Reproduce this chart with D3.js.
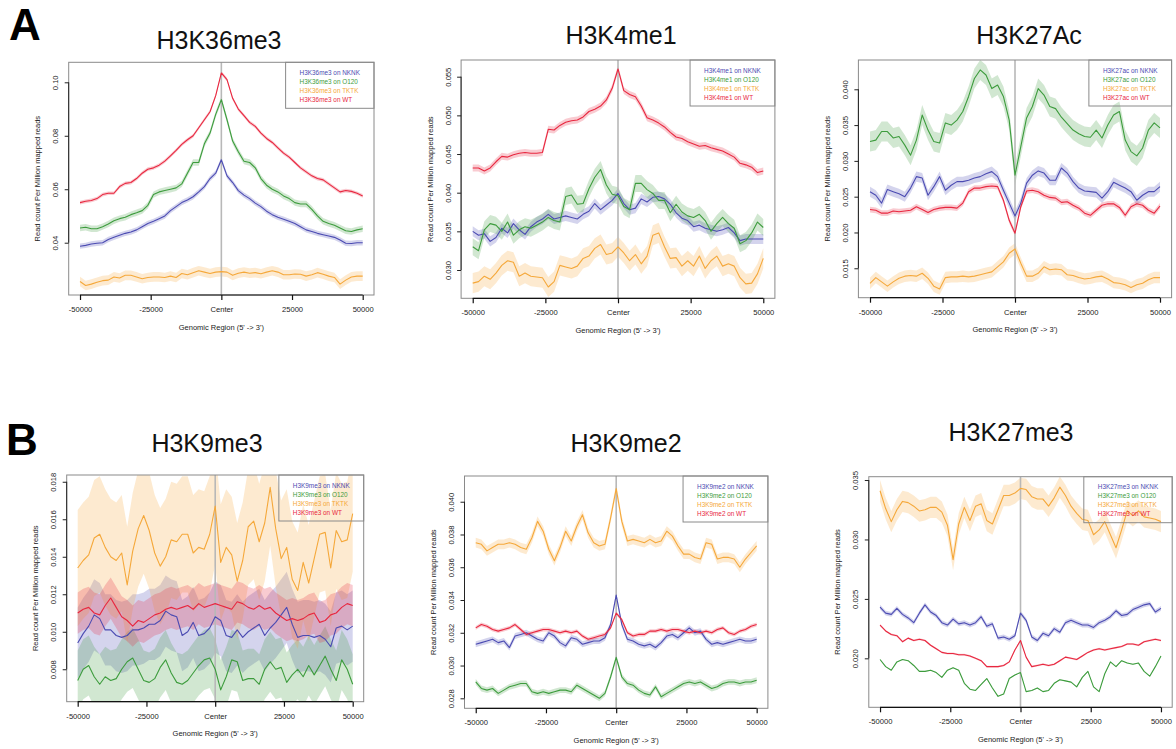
<!DOCTYPE html>
<html>
<head>
<meta charset="utf-8">
<script src="https://cdn.jsdelivr.net/npm/d3@7"></script>
<style>
  html, body { margin: 0; padding: 0; background: #fff; }
  svg { display: block; font-family: "Liberation Sans", Arial, Helvetica, sans-serif; }
</style>
</head>
<body>
<svg id="fig" width="1176" height="749"></svg>
<script>
// Genomic positions of the profile bins (bp relative to the center)
const positions = d3.range(-50000, 50001, 2000);
const xTickValues = [-50000, -25000, 0, 25000, 50000];
const xTickLabels = ["-50000", "-25000", "Center", "25000", "50000"];
const samples = ["NKNK", "O120", "TKTK", "WT"];

// ---- H3K36me3 ----
const k36_nknk = [0.0387,0.0390,0.0395,0.0398,0.0400, 0.0412,0.0420,0.0428,0.0435,0.0440, 0.0448,0.0460,0.0472,0.0480,0.0490, 0.0500,0.0520,0.0535,0.0550,0.0560, 0.0572,0.0590,0.0610,0.0640,0.0660, 0.0710, 0.0650,0.0625,0.0595,0.0578,0.0565, 0.0548,0.0535,0.0518,0.0505,0.0495, 0.0488,0.0480,0.0472,0.0460,0.0448, 0.0442,0.0435,0.0430,0.0425,0.0420, 0.0410,0.0398,0.0397,0.0400,0.0400];
const k36_o120 = [0.0455,0.0458,0.0452,0.0452,0.0460, 0.0470,0.0482,0.0490,0.0495,0.0505, 0.0512,0.0520,0.0540,0.0580,0.0590, 0.0595,0.0600,0.0605,0.0620,0.0660, 0.0700,0.0700,0.0770,0.0810,0.0880, 0.0935, 0.0860,0.0780,0.0740,0.0705,0.0700, 0.0680,0.0640,0.0615,0.0600,0.0590, 0.0575,0.0565,0.0550,0.0545,0.0545, 0.0525,0.0500,0.0480,0.0472,0.0465, 0.0455,0.0445,0.0442,0.0448,0.0452];
const k36_tktk = [0.0255,0.0240,0.0245,0.0252,0.0258, 0.0260,0.0272,0.0268,0.0278,0.0278, 0.0272,0.0265,0.0270,0.0272,0.0272, 0.0270,0.0275,0.0270,0.0285,0.0280, 0.0288,0.0295,0.0290,0.0285,0.0290, 0.0292, 0.0290,0.0278,0.0286,0.0290,0.0286, 0.0288,0.0284,0.0290,0.0295,0.0290, 0.0280,0.0280,0.0283,0.0282,0.0275, 0.0280,0.0288,0.0282,0.0275,0.0270, 0.0245,0.0260,0.0272,0.0275,0.0275];
const k36_wt = [0.0550,0.0555,0.0558,0.0565,0.0580, 0.0585,0.0585,0.0610,0.0622,0.0625, 0.0640,0.0660,0.0675,0.0680,0.0690, 0.0705,0.0725,0.0745,0.0768,0.0785, 0.0800,0.0830,0.0860,0.0890,0.0950, 0.1035, 0.1010,0.0940,0.0900,0.0875,0.0850, 0.0835,0.0810,0.0790,0.0775,0.0755, 0.0735,0.0720,0.0700,0.0680,0.0665, 0.0650,0.0640,0.0635,0.0620,0.0605, 0.0590,0.0595,0.0592,0.0585,0.0575];
const k36_se = [0.0010, 0.0012, 0.0018, 0.0007];
const k36_yTicks = [0.04, 0.06, 0.08, 0.10];

// ---- H3K4me1 ----
const k4_nknk = [0.0350,0.0345,0.0347,0.0337,0.0342, 0.0354,0.0348,0.0360,0.0352,0.0346, 0.0356,0.0362,0.0366,0.0372,0.0366, 0.0368,0.0370,0.0368,0.0366,0.0372, 0.0376,0.0386,0.0378,0.0384,0.0390, 0.0399, 0.0386,0.0378,0.0380,0.0392,0.0388, 0.0394,0.0395,0.0392,0.0385,0.0374, 0.0367,0.0364,0.0356,0.0358,0.0354, 0.0352,0.0350,0.0352,0.0355,0.0348, 0.0338,0.0340,0.0340,0.0340,0.0340];
const k4_o120 = [0.0330,0.0325,0.0352,0.0360,0.0358, 0.0350,0.0362,0.0345,0.0352,0.0356, 0.0354,0.0358,0.0362,0.0368,0.0364, 0.0362,0.0395,0.0397,0.0385,0.0386, 0.0405,0.0420,0.0430,0.0410,0.0398, 0.0396, 0.0382,0.0378,0.0412,0.0412,0.0404, 0.0399,0.0390,0.0390,0.0374,0.0385, 0.0375,0.0370,0.0368,0.0372,0.0364, 0.0350,0.0360,0.0368,0.0360,0.0354, 0.0334,0.0338,0.0348,0.0362,0.0355];
const k4_tktk = [0.0283,0.0285,0.0292,0.0288,0.0296, 0.0306,0.0312,0.0310,0.0292,0.0296, 0.0292,0.0291,0.0290,0.0278,0.0285, 0.0306,0.0304,0.0302,0.0305,0.0315, 0.0318,0.0328,0.0333,0.0320,0.0322, 0.0330, 0.0322,0.0312,0.0320,0.0308,0.0318, 0.0345,0.0348,0.0330,0.0315,0.0316, 0.0305,0.0312,0.0305,0.0318,0.0302, 0.0312,0.0318,0.0305,0.0308,0.0305, 0.0290,0.0282,0.0283,0.0295,0.0315];
const k4_wt = [0.0432,0.0432,0.0428,0.0432,0.0440, 0.0447,0.0446,0.0449,0.0451,0.0452, 0.0451,0.0451,0.0452,0.0482,0.0481, 0.0487,0.0491,0.0493,0.0494,0.0498, 0.0505,0.0508,0.0512,0.0520,0.0535, 0.0560, 0.0532,0.0527,0.0524,0.0512,0.0497, 0.0494,0.0490,0.0485,0.0478,0.0472, 0.0470,0.0466,0.0463,0.0460,0.0461, 0.0458,0.0456,0.0454,0.0450,0.0446, 0.0438,0.0436,0.0433,0.0426,0.0428];
const k4_se = [0.00065, 0.0011, 0.0013, 0.00045];
const k4_yTicks = [0.030, 0.035, 0.040, 0.045, 0.050, 0.055];

// ---- H3K27ac ----
const k27ac_nknk = [0.0257,0.0252,0.0241,0.0260,0.0257, 0.0254,0.0250,0.0262,0.0278,0.0276, 0.0252,0.0264,0.0278,0.0259,0.0266, 0.0271,0.0271,0.0273,0.0276,0.0278, 0.0282,0.0285,0.0278,0.0259,0.0241, 0.0223, 0.0241,0.0269,0.0280,0.0286,0.0283, 0.0273,0.0273,0.0290,0.0283,0.0271, 0.0262,0.0258,0.0257,0.0256,0.0248, 0.0257,0.0270,0.0266,0.0262,0.0257, 0.0245,0.0252,0.0257,0.0257,0.0264];
const k27ac_o120 = [0.0327,0.0329,0.0341,0.0341,0.0332, 0.0334,0.0322,0.0308,0.0329,0.0364, 0.0343,0.0327,0.0325,0.0353,0.0350, 0.0357,0.0369,0.0390,0.0415,0.0427, 0.0420,0.0401,0.0406,0.0390,0.0357, 0.0280, 0.0320,0.0360,0.0376,0.0401,0.0392, 0.0376,0.0373,0.0361,0.0352,0.0343, 0.0338,0.0334,0.0333,0.0343,0.0332, 0.0350,0.0364,0.0369,0.0329,0.0313, 0.0307,0.0318,0.0343,0.0353,0.0346];
const k27ac_tktk = [0.0129,0.0137,0.0131,0.0125,0.0131, 0.0136,0.0139,0.0140,0.0139,0.0143, 0.0136,0.0125,0.0121,0.0137,0.0138, 0.0138,0.0139,0.0138,0.0139,0.0141, 0.0143,0.0145,0.0152,0.0159,0.0171, 0.0177, 0.0157,0.0139,0.0139,0.0143,0.0152, 0.0148,0.0149,0.0148,0.0141,0.0140, 0.0137,0.0135,0.0136,0.0138,0.0139, 0.0135,0.0130,0.0129,0.0127,0.0123, 0.0127,0.0129,0.0134,0.0137,0.0137];
const k27ac_wt = [0.0232,0.0231,0.0227,0.0227,0.0230, 0.0229,0.0230,0.0231,0.0236,0.0232, 0.0228,0.0232,0.0234,0.0235,0.0235, 0.0234,0.0241,0.0257,0.0262,0.0262, 0.0264,0.0265,0.0264,0.0245,0.0217, 0.0199, 0.0236,0.0258,0.0259,0.0257,0.0252, 0.0249,0.0248,0.0242,0.0243,0.0238, 0.0234,0.0227,0.0224,0.0231,0.0238, 0.0240,0.0240,0.0235,0.0224,0.0236, 0.0240,0.0238,0.0231,0.0227,0.0237];
const k27ac_se = [0.0007, 0.0014, 0.0008, 0.0004];
const k27ac_yTicks = [0.015, 0.020, 0.025, 0.030, 0.035, 0.040];

// ---- H3K9me3 ----
const k9me3_nknk = [0.0094,0.0099,0.0103,0.0109,0.0107, 0.0101,0.0101,0.0098,0.0097,0.0098, 0.0101,0.0101,0.0102,0.0104,0.0104, 0.0106,0.0111,0.0109,0.0108,0.0098, 0.0100,0.0105,0.0098,0.0099,0.0102, 0.0108, 0.0106,0.0098,0.0097,0.0101,0.0097, 0.0100,0.0102,0.0104,0.0098,0.0102, 0.0105,0.0109,0.0113,0.0104,0.0097, 0.0098,0.0098,0.0097,0.0098,0.0096, 0.0092,0.0102,0.0103,0.0101,0.0103];
const k9me3_o120 = [0.0074,0.0080,0.0082,0.0076,0.0072, 0.0076,0.0074,0.0075,0.0080,0.0084, 0.0086,0.0080,0.0074,0.0073,0.0075, 0.0081,0.0085,0.0078,0.0073,0.0072, 0.0074,0.0078,0.0082,0.0085,0.0086, 0.0080, 0.0069,0.0076,0.0085,0.0084,0.0074, 0.0075,0.0075,0.0072,0.0080,0.0084, 0.0080,0.0081,0.0073,0.0077,0.0080, 0.0076,0.0082,0.0077,0.0082,0.0087, 0.0080,0.0074,0.0085,0.0080,0.0072];
const k9me3_tktk = [0.0134,0.0138,0.0141,0.0150,0.0152, 0.0145,0.0140,0.0138,0.0142,0.0125, 0.0143,0.0155,0.0162,0.0154,0.0142, 0.0135,0.0140,0.0149,0.0148,0.0152, 0.0152,0.0142,0.0145,0.0144,0.0152, 0.0167, 0.0137,0.0145,0.0141,0.0127,0.0138, 0.0156,0.0159,0.0148,0.0158,0.0177, 0.0155,0.0139,0.0145,0.0128,0.0122, 0.0137,0.0126,0.0139,0.0152,0.0153, 0.0134,0.0154,0.0148,0.0149,0.0163];
const k9me3_wt = [0.0110,0.0112,0.0113,0.0110,0.0109, 0.0114,0.0118,0.0113,0.0108,0.0106, 0.0103,0.0106,0.0105,0.0107,0.0109, 0.0110,0.0112,0.0113,0.0112,0.0113, 0.0114,0.0112,0.0115,0.0113,0.0114, 0.0115, 0.0114,0.0113,0.0112,0.0116,0.0115, 0.0113,0.0112,0.0114,0.0112,0.0113, 0.0110,0.0108,0.0106,0.0107,0.0106, 0.0107,0.0109,0.0110,0.0105,0.0106, 0.0109,0.0110,0.0113,0.0115,0.0114];
const k9me3_se = [0.0019, 0.0016, 0.0031, 0.0011];
const k9me3_yTicks = [0.008, 0.010, 0.012, 0.014, 0.016, 0.018];

// ---- H3K9me2 ----
const k9me2_nknk = [0.0313,0.0314,0.0315,0.0316,0.0314, 0.0315,0.0311,0.0318,0.0319,0.0320, 0.0318,0.0316,0.0315,0.0320,0.0318, 0.0314,0.0312,0.0317,0.0316,0.0313, 0.0314,0.0315,0.0315,0.0317,0.0325, 0.0343, 0.0325,0.0316,0.0315,0.0313,0.0312, 0.0313,0.0311,0.0314,0.0318,0.0319, 0.0317,0.0320,0.0323,0.0320,0.0321, 0.0316,0.0313,0.0314,0.0313,0.0314, 0.0315,0.0316,0.0315,0.0315,0.0316];
const k9me2_o120 = [0.0290,0.0286,0.0285,0.0286,0.0283, 0.0285,0.0287,0.0288,0.0289,0.0289, 0.0284,0.0283,0.0284,0.0283,0.0284, 0.0285,0.0285,0.0284,0.0288,0.0286, 0.0284,0.0282,0.0280,0.0283,0.0293, 0.0305, 0.0293,0.0289,0.0288,0.0285,0.0283, 0.0282,0.0287,0.0281,0.0283,0.0285, 0.0287,0.0289,0.0290,0.0289,0.0290, 0.0288,0.0286,0.0287,0.0289,0.0290, 0.0290,0.0289,0.0290,0.0290,0.0291];
const k9me2_tktk = [0.0375,0.0374,0.0370,0.0372,0.0374, 0.0374,0.0375,0.0374,0.0372,0.0371, 0.0378,0.0388,0.0382,0.0371,0.0364, 0.0372,0.0382,0.0376,0.0385,0.0392, 0.0381,0.0375,0.0373,0.0374,0.0390, 0.0408, 0.0388,0.0376,0.0377,0.0376,0.0375, 0.0377,0.0375,0.0376,0.0382,0.0379, 0.0373,0.0368,0.0368,0.0366,0.0365, 0.0375,0.0374,0.0365,0.0366,0.0366, 0.0365,0.0360,0.0365,0.0369,0.0373];
const k9me2_wt = [0.0323,0.0325,0.0324,0.0322,0.0321, 0.0322,0.0323,0.0325,0.0322,0.0319, 0.0320,0.0321,0.0322,0.0322,0.0321, 0.0320,0.0321,0.0320,0.0321,0.0318, 0.0316,0.0317,0.0318,0.0319,0.0323, 0.0332, 0.0328,0.0320,0.0318,0.0319,0.0319, 0.0321,0.0321,0.0322,0.0321,0.0322, 0.0322,0.0321,0.0320,0.0321,0.0320, 0.0321,0.0320,0.0322,0.0323,0.0320, 0.0319,0.0321,0.0322,0.0324,0.0325];
const k9me2_se = [0.00018, 0.00018, 0.0003, 0.00012];
const k9me2_yTicks = [0.028, 0.030, 0.032, 0.034, 0.036, 0.038, 0.040];

// ---- H3K27me3 ----
const k27me3_nknk = [0.0243,0.0238,0.0237,0.0242,0.0237, 0.0234,0.0230,0.0238,0.0245,0.0239, 0.0236,0.0230,0.0228,0.0233,0.0229, 0.0230,0.0228,0.0230,0.0235,0.0227, 0.0229,0.0217,0.0218,0.0216,0.0219, 0.0238, 0.0232,0.0218,0.0215,0.0221,0.0219, 0.0225,0.0222,0.0230,0.0232,0.0230, 0.0228,0.0228,0.0226,0.0230,0.0232, 0.0235,0.0240,0.0236,0.0237,0.0241, 0.0243,0.0245,0.0246,0.0239,0.0242];
const k27me3_o120 = [0.0199,0.0193,0.0190,0.0197,0.0199, 0.0198,0.0194,0.0189,0.0189,0.0190, 0.0188,0.0184,0.0190,0.0192,0.0190, 0.0179,0.0174,0.0173,0.0178,0.0183, 0.0175,0.0168,0.0170,0.0183,0.0186, 0.0188, 0.0172,0.0173,0.0175,0.0172,0.0173, 0.0179,0.0182,0.0181,0.0180,0.0176, 0.0184,0.0189,0.0176,0.0172,0.0187, 0.0197,0.0193,0.0198,0.0196,0.0195, 0.0196,0.0189,0.0185,0.0193,0.0202];
const k27me3_tktk = [0.0341,0.0326,0.0315,0.0325,0.0332, 0.0331,0.0328,0.0324,0.0325,0.0327, 0.0327,0.0323,0.0312,0.0283,0.0313, 0.0327,0.0316,0.0328,0.0330,0.0316, 0.0313,0.0325,0.0337,0.0337,0.0339, 0.0343, 0.0342,0.0336,0.0334,0.0334,0.0328, 0.0335,0.0344,0.0337,0.0328,0.0322, 0.0317,0.0316,0.0304,0.0308,0.0315, 0.0304,0.0293,0.0308,0.0324,0.0320, 0.0324,0.0319,0.0318,0.0317,0.0315];
const k27me3_wt = [0.0228,0.0223,0.0220,0.0219,0.0214, 0.0217,0.0215,0.0216,0.0215,0.0211, 0.0208,0.0205,0.0204,0.0204,0.0203, 0.0203,0.0202,0.0200,0.0198,0.0193, 0.0193,0.0193,0.0194,0.0197,0.0207, 0.0215, 0.0201,0.0193,0.0194,0.0195,0.0194, 0.0195,0.0198,0.0201,0.0200,0.0199, 0.0202,0.0205,0.0207,0.0208,0.0207, 0.0208,0.0209,0.0210,0.0212,0.0212, 0.0211,0.0214,0.0215,0.0216,0.0215];
const k27me3_se = [0.0002, 0.00004, 0.0009, 0.00008];
const k27me3_yTicks = [0.020, 0.025, 0.030, 0.035];

// ---- styling ----
const seriesColors = ["#4b4bb2", "#3d9c3d", "#f5a83a", "#e8273f"];
const FONT = '"Liberation Sans", Arial, Helvetica, sans-serif';

const panels = [
  { title: "H3K36me3", mark: "H3K36me3", data: [k36_nknk, k36_o120, k36_tktk, k36_wt], se: k36_se,
    yTicks: k36_yTicks, fmt: ".2f", yDom: [0.02044, 0.10748],
    box: { l: 68.7, r: 374.0, t: 62.3, b: 295.0 }, titleX: 219, titleY: 49 },
  { title: "H3K4me1", mark: "H3K4me1", data: [k4_nknk, k4_o120, k4_tktk, k4_wt], se: k4_se,
    yTicks: k4_yTicks, fmt: ".3f", yDom: [0.02634, 0.05716],
    box: { l: 461.1, r: 774.9, t: 60.0, b: 298.3 }, titleX: 621, titleY: 43.5 },
  { title: "H3K27Ac", mark: "H3K27ac", data: [k27ac_nknk, k27ac_o120, k27ac_tktk, k27ac_wt], se: k27ac_se,
    yTicks: k27ac_yTicks, fmt: ".3f", yDom: [0.01089, 0.04409],
    box: { l: 858.4, r: 1171.6, t: 60.0, b: 297.7 }, titleX: 1029, titleY: 43.5 },
  { title: "H3K9me3", mark: "H3K9me3", data: [k9me3_nknk, k9me3_o120, k9me3_tktk, k9me3_wt], se: k9me3_se,
    yTicks: k9me3_yTicks, fmt: ".3f", yDom: [0.00627, 0.01836],
    box: { l: 66.7, r: 363.7, t: 475.0, b: 701.7 }, titleX: 207, titleY: 451.7 },
  { title: "H3K9me2", mark: "H3K9me2", data: [k9me2_nknk, k9me2_o120, k9me2_tktk, k9me2_wt], se: k9me2_se,
    yTicks: k9me2_yTicks, fmt: ".3f", yDom: [0.02739, 0.04157],
    box: { l: 464.5, r: 767.9, t: 476.0, b: 708.3 }, titleX: 626, titleY: 451.7 },
  { title: "H3K27me3", mark: "H3K27me3", data: [k27me3_nknk, k27me3_o120, k27me3_tktk, k27me3_wt], se: k27me3_se,
    yTicks: k27me3_yTicks, fmt: ".3f", yDom: [0.01588, 0.03528],
    box: { l: 868.8, r: 1172.2, t: 476.7, b: 707.3 }, titleX: 1011, titleY: 440.7 }
];

const svg = d3.select("#fig");
const defs = svg.append("defs");

// panel letters
svg.append("text").attr("x", 9).attr("y", 40).attr("font-family", FONT)
  .attr("font-size", 44).attr("font-weight", "bold").text("A");
svg.append("text").attr("x", 6).attr("y", 455).attr("font-family", FONT)
  .attr("font-size", 44).attr("font-weight", "bold").text("B");

panels.forEach((p, pi) => {
  const g = svg.append("g");
  const x = d3.scaleLinear().domain([-54000, 54000]).range([p.box.l, p.box.r]);
  const y = d3.scaleLinear().domain(p.yDom).range([p.box.b, p.box.t]);

  const clipId = "clip" + pi;
  defs.append("clipPath").attr("id", clipId).append("rect")
    .attr("x", p.box.l).attr("y", p.box.t)
    .attr("width", p.box.r - p.box.l).attr("height", p.box.b - p.box.t);

  const plot = g.append("g").attr("clip-path", `url(#${clipId})`);

  // standard-error ribbons
  p.data.forEach((vals, si) => {
    const area = d3.area()
      .x((d, j) => x(positions[j]))
      .y0(d => y(d - p.se[si]))
      .y1(d => y(d + p.se[si]));
    plot.append("path").datum(vals).attr("d", area)
      .attr("fill", seriesColors[si]).attr("fill-opacity", 0.24).attr("stroke", "none");
  });

  // center marker
  plot.append("line")
    .attr("x1", x(0)).attr("x2", x(0)).attr("y1", p.box.t).attr("y2", p.box.b)
    .attr("stroke", "#b8b8b8").attr("stroke-width", 1.6);

  // mean profiles
  p.data.forEach((vals, si) => {
    const line = d3.line().x((d, j) => x(positions[j])).y(d => y(d));
    plot.append("path").datum(vals).attr("d", line)
      .attr("fill", "none").attr("stroke", seriesColors[si]).attr("stroke-width", 1.1)
      .attr("stroke-linejoin", "round");
  });

  // plot frame
  g.append("rect").attr("x", p.box.l).attr("y", p.box.t)
    .attr("width", p.box.r - p.box.l).attr("height", p.box.b - p.box.t)
    .attr("fill", "none").attr("stroke", "#8a8a8a").attr("stroke-width", 1);

  // x axis
  const xa = g.append("g").attr("transform", `translate(0,${p.box.b})`)
    .call(d3.axisBottom(x).tickValues(xTickValues)
      .tickFormat((d, i) => xTickLabels[i]).tickSize(5).tickPadding(6.5));
  xa.select(".domain").remove();
  xa.append("line").attr("x1", x(-50000)).attr("x2", x(50000))
    .attr("stroke", "#111").attr("stroke-width", 1.2);
  xa.selectAll(".tick line").attr("stroke", "#111").attr("stroke-width", 1.2);
  xa.selectAll("text").attr("font-family", FONT).attr("font-size", 7.6).attr("fill", "#222");

  // y axis with labels rotated parallel to the axis
  const ya = g.append("g").attr("transform", `translate(${p.box.l},0)`)
    .call(d3.axisLeft(y).tickValues(p.yTicks).tickFormat(d3.format(p.fmt)).tickSize(4));
  ya.select(".domain").remove();
  ya.append("line").attr("y1", y(d3.min(p.yTicks))).attr("y2", y(d3.max(p.yTicks)))
    .attr("stroke", "#222").attr("stroke-width", 1);
  ya.selectAll(".tick line").attr("stroke", "#222");
  ya.selectAll("text")
    .attr("x", 0).attr("y", -10.5).attr("dy", null)
    .attr("transform", "rotate(-90)")
    .attr("text-anchor", "middle")
    .attr("font-family", FONT).attr("font-size", 7.6).attr("fill", "#222");

  // axis titles
  g.append("text")
    .attr("transform", `translate(${p.box.l - 28.5},${(p.box.t + p.box.b) / 2}) rotate(-90)`)
    .attr("text-anchor", "middle").attr("font-family", FONT).attr("font-size", 7.5)
    .attr("fill", "#222").text("Read count Per Million mapped reads");
  g.append("text")
    .attr("x", (p.box.l + p.box.r) / 2).attr("y", p.box.b + 34.7)
    .attr("text-anchor", "middle").attr("font-family", FONT).attr("font-size", 7.5)
    .attr("fill", "#222").text("Genomic Region (5' -> 3')");

  // title
  g.append("text").attr("x", p.titleX).attr("y", p.titleY)
    .attr("text-anchor", "middle").attr("font-family", FONT).attr("font-size", 25)
    .attr("fill", "#111").text(p.title);

  // legend (transparent, framed, anchored to the top-right corner)
  const lg = g.append("g");
  const labels = samples.map(s => `${p.mark} on ${s}`);
  const texts = lg.selectAll("text").data(labels).join("text")
    .attr("font-family", FONT).attr("font-size", 6.4)
    .attr("fill", (d, i) => seriesColors[i])
    .attr("dominant-baseline", "central")
    .text(d => d);
  let maxW = 0;
  texts.each(function () { maxW = Math.max(maxW, this.getComputedTextLength()); });
  const lw = maxW + 28;
  const lx = p.box.r - lw;
  texts.attr("x", lx + 14).attr("y", (d, i) => p.box.t + 10 + i * 9);
  lg.insert("rect", "text").attr("x", lx).attr("y", p.box.t)
    .attr("width", lw).attr("height", 46)
    .attr("fill", "none").attr("stroke", "#8a8a8a").attr("stroke-width", 1);
});
</script>
</body>
</html>
